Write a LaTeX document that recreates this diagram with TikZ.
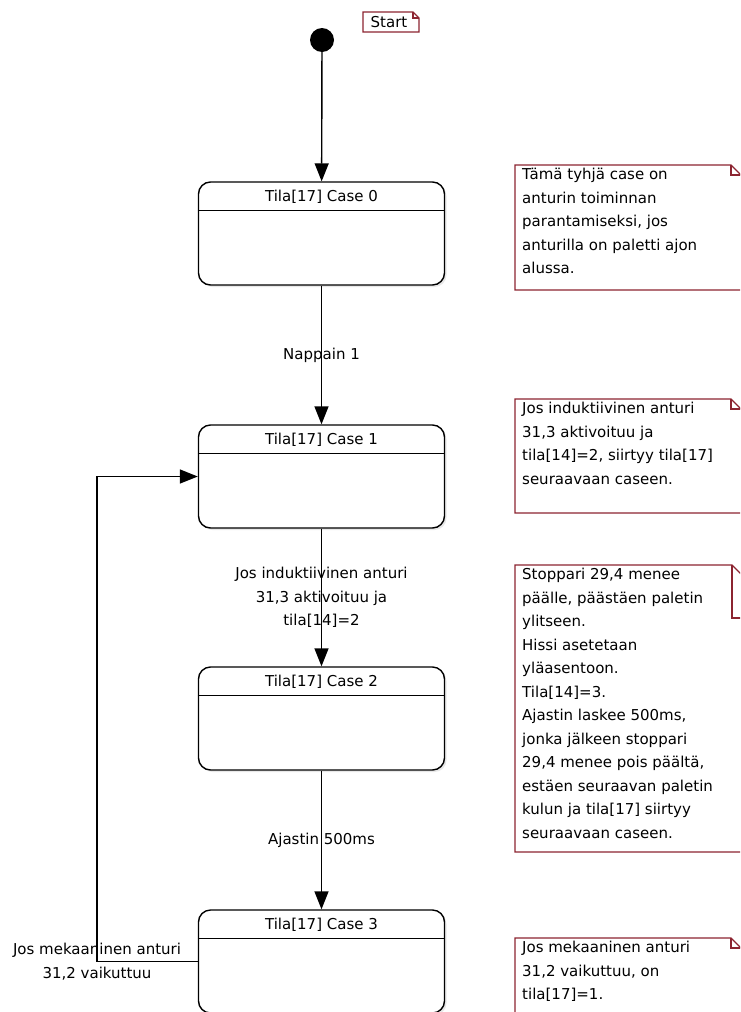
\documentclass[tikz,border=0pt]{standalone}
\usepackage{fontspec}
\setmainfont{DejaVu Sans}
\usetikzlibrary{arrows.meta,shadows}
\definecolor{notered}{RGB}{140,36,48}
\tikzset{
  arr/.style      = {-{Triangle[length=18pt,width=14pt]},line width=1.4pt},
  state/.style    = {draw,line width=1.4pt,rounded corners=12pt,minimum width=246pt,
                     minimum height=103pt,fill=white,
                     drop shadow={shadow xshift=2pt,shadow yshift=-2pt,opacity=0.18}},
  dot/.style      = {circle,fill=black,minimum size=24pt,inner sep=0pt},
  txt/.style      = {font=\fontsize{15}{23.5}\selectfont,inner sep=0pt},
  notetxt/.style  = {txt,align=left,anchor=north west},
  noteline/.style = {draw=notered,line width=1.4pt,fill=white}
}
% note outline: x1, y1, x2, y2, ear
\newcommand{\notebox}[5]{%
  \draw[noteline] (#1,#2) -- (#3-#5,#2) -- (#3,#2+#5) -- (#3,#4) -- (#1,#4) -- cycle;
  \draw[noteline,fill=none] (#3-#5,#2) -- (#3-#5,#2+#5) -- (#3,#2+#5);
}

\begin{document}
\begin{tikzpicture}[x=1pt,y=-1pt]
  \useasboundingbox (0,0) rectangle (740,1012);
  \clip (0,0) rectangle (740,1012);
  % start
  \node[dot] (start) at (322,40) {};
  \notebox{363}{12}{419}{32}{6}
  \node[txt] (startnote) at (389,22.5) {Start};
  % states
  \foreach \i/\y in {0/233.5,1/476.5,2/718.5,3/961.5}{
    \node[state] (c\i) at (321.5,\y) {};
    \node[txt] (h\i) at ([yshift=-15pt]c\i.north) {Tila[17] Case \i};
    \draw[line width=1.4pt] ([yshift=-29pt]c\i.north west) -- ([yshift=-29pt]c\i.north east);
  }
  % transitions
  \draw[arr] (start) -- (c0);
  \draw[arr] (c0) -- node[txt] (t1) {Nappain 1} (c1);
  \draw[arr] (c1) -- node[txt,align=center] (t2) {Jos induktiivinen anturi\\31,3 aktivoituu ja\\tila[14]=2} (c2);
  \draw[arr] (c2) -- node[txt] (t3) {Ajastin 500ms} (c3);
  \coordinate (back) at (97,0);
  \draw[arr] (c3.west) -- (c3.west -| back)
    node[txt,align=center] (t4) {Jos mekaaninen anturi\\31,2 vaikuttuu} |- (c1.west);
  % notes
  \notebox{515}{165}{741}{290}{10}
  \node[notetxt] (n0) at (522,168) {Tämä tyhjä case on\\anturin toiminnan\\parantamiseksi, jos\\anturilla on paletti ajon\\alussa.};
  \notebox{515}{399}{741}{513}{10}
  \node[notetxt] (n1) at (522,402) {Jos induktiivinen anturi\\31,3 aktivoituu ja\\tila[14]=2, siirtyy tila[17]\\seuraavaan caseen.};
  \notebox{515}{565}{785}{852}{53}
  \node[notetxt] (n2) at (522,568) {Stoppari 29,4 menee\\päälle, päästäen paletin\\ylitseen.\\Hissi asetetaan\\yläasentoon.\\Tila[14]=3.\\Ajastin laskee 500ms,\\jonka jälkeen stoppari\\29,4 menee pois päältä,\\estäen seuraavan paletin\\kulun ja tila[17] siirtyy\\seuraavaan caseen.};
  \notebox{515}{938}{741}{1030}{10}
  \node[notetxt] (n3) at (522,941) {Jos mekaaninen anturi\\31,2 vaikuttuu, on\\tila[17]=1.};
\end{tikzpicture}
\end{document}
